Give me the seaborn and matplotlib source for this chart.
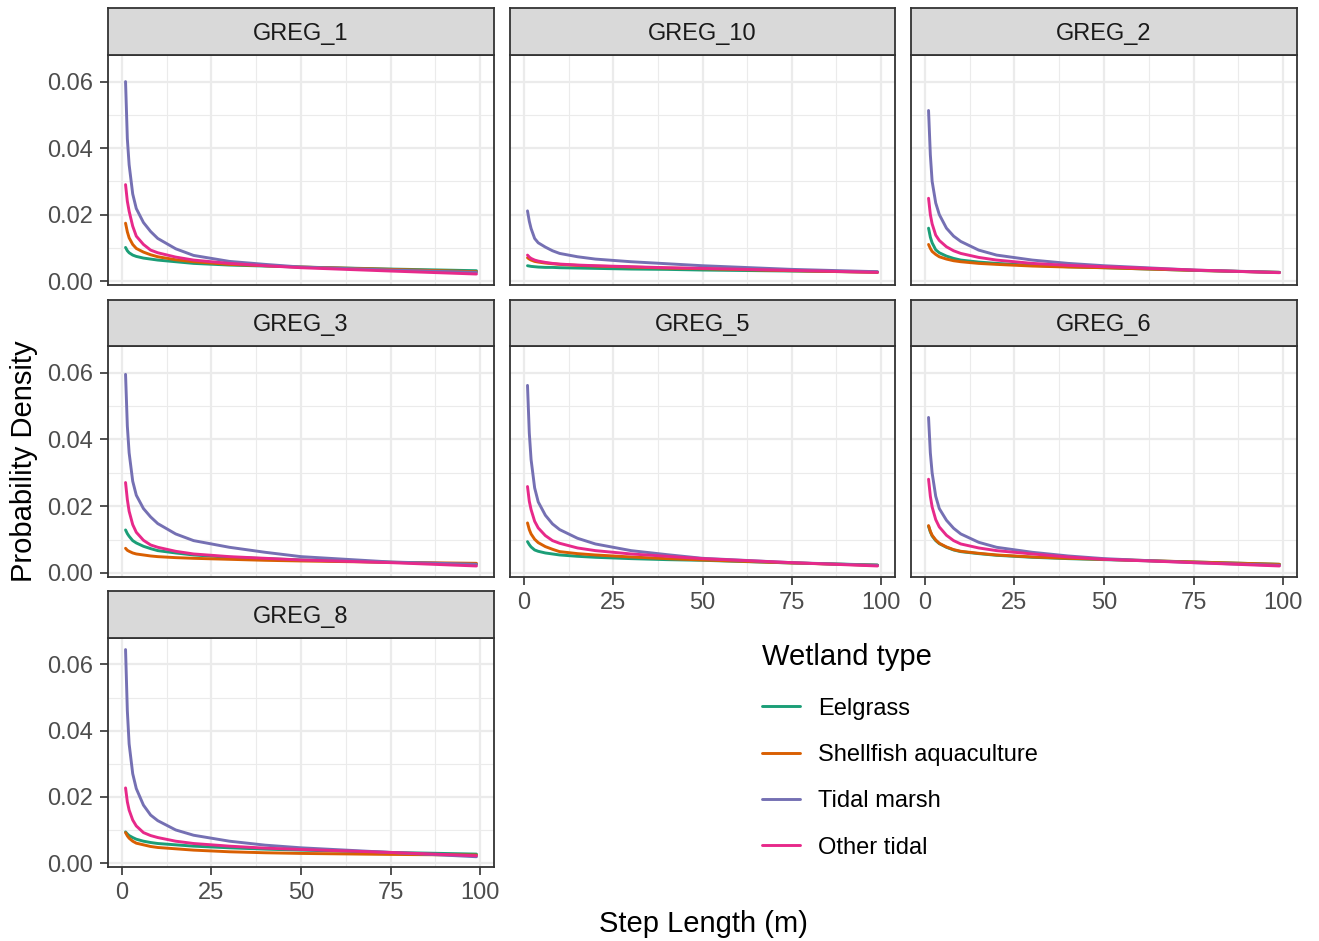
import numpy as np
import pandas as pd
import seaborn as sns
import matplotlib.pyplot as plt
from matplotlib.lines import Line2D

step = [1, 1.5, 2, 3, 4, 6, 8, 10, 15, 20, 30, 40, 50, 75, 99]

regions = ["GREG_1", "GREG_10", "GREG_2", "GREG_3", "GREG_5", "GREG_6", "GREG_8"]
wetlands = ["Eelgrass", "Shellfish aquaculture", "Tidal marsh", "Other tidal"]
colors = ["#1B9E77", "#D95F02", "#7570B3", "#E7298A"]

# GREG_1
g1_eel = [0.0101, 0.0091, 0.0085, 0.0078, 0.0074, 0.0069, 0.0066, 0.0063, 0.0058, 0.0053, 0.0048, 0.0045, 0.0042, 0.0036, 0.0031]
g1_shell = [0.0174, 0.0148, 0.0130, 0.0110, 0.0098, 0.0087, 0.0079, 0.0073, 0.0064, 0.0058, 0.0050, 0.0046, 0.0042, 0.0035, 0.0028]
g1_marsh = [0.0600, 0.0428, 0.0350, 0.0262, 0.0218, 0.0176, 0.0149, 0.0128, 0.0097, 0.0077, 0.0059, 0.0050, 0.0042, 0.0033, 0.0026]
g1_other = [0.0290, 0.0240, 0.0210, 0.0165, 0.0135, 0.0110, 0.0093, 0.0085, 0.0072, 0.0063, 0.0053, 0.0046, 0.0040, 0.0030, 0.0021]
# GREG_10
g10_eel = [0.0046, 0.0045, 0.0044, 0.0043, 0.0042, 0.0041, 0.0041, 0.0040, 0.0039, 0.0038, 0.0036, 0.0035, 0.0033, 0.0030, 0.0027]
g10_shell = [0.0070, 0.0066, 0.0063, 0.0059, 0.0057, 0.0054, 0.0052, 0.0050, 0.0047, 0.0045, 0.0042, 0.0039, 0.0037, 0.0031, 0.0026]
g10_marsh = [0.0211, 0.0180, 0.0158, 0.0128, 0.0115, 0.0102, 0.0091, 0.0083, 0.0073, 0.0066, 0.0058, 0.0052, 0.0046, 0.0035, 0.0028]
g10_other = [0.0078, 0.0072, 0.0068, 0.0063, 0.0060, 0.0056, 0.0053, 0.0051, 0.0048, 0.0046, 0.0043, 0.0040, 0.0038, 0.0032, 0.0026]
# GREG_2
g2_eel = [0.0159, 0.0132, 0.0115, 0.0094, 0.0085, 0.0075, 0.0068, 0.0063, 0.0057, 0.0053, 0.0047, 0.0043, 0.0040, 0.0032, 0.0026]
g2_shell = [0.0110, 0.0098, 0.0089, 0.0080, 0.0073, 0.0066, 0.0061, 0.0058, 0.0053, 0.0050, 0.0045, 0.0042, 0.0040, 0.0032, 0.0026]
g2_marsh = [0.0513, 0.0380, 0.0300, 0.0235, 0.0200, 0.0159, 0.0135, 0.0119, 0.0093, 0.0078, 0.0063, 0.0053, 0.0046, 0.0033, 0.0026]
g2_other = [0.0249, 0.0200, 0.0172, 0.0138, 0.0122, 0.0103, 0.0091, 0.0083, 0.0071, 0.0063, 0.0053, 0.0047, 0.0043, 0.0033, 0.0025]
# GREG_3
g3_eel = [0.0129, 0.0118, 0.0110, 0.0097, 0.0090, 0.0080, 0.0073, 0.0067, 0.0060, 0.0054, 0.0047, 0.0043, 0.0039, 0.0032, 0.0026]
g3_shell = [0.0074, 0.0068, 0.0065, 0.0060, 0.0057, 0.0054, 0.0051, 0.0049, 0.0046, 0.0044, 0.0041, 0.0038, 0.0036, 0.0032, 0.0029]
g3_marsh = [0.0595, 0.0440, 0.0360, 0.0275, 0.0233, 0.0193, 0.0168, 0.0148, 0.0117, 0.0097, 0.0077, 0.0062, 0.0049, 0.0033, 0.0026]
g3_other = [0.0271, 0.0220, 0.0185, 0.0145, 0.0122, 0.0098, 0.0084, 0.0077, 0.0065, 0.0057, 0.0049, 0.0044, 0.0039, 0.0031, 0.0021]
# GREG_5
g5_eel = [0.0094, 0.0085, 0.0078, 0.0069, 0.0065, 0.0060, 0.0057, 0.0054, 0.0050, 0.0047, 0.0043, 0.0040, 0.0038, 0.0030, 0.0024]
g5_shell = [0.0150, 0.0130, 0.0117, 0.0101, 0.0091, 0.0079, 0.0071, 0.0064, 0.0058, 0.0054, 0.0048, 0.0043, 0.0039, 0.0030, 0.0023]
g5_marsh = [0.0562, 0.0420, 0.0340, 0.0255, 0.0213, 0.0173, 0.0147, 0.0130, 0.0104, 0.0087, 0.0067, 0.0055, 0.0044, 0.0031, 0.0023]
g5_other = [0.0259, 0.0215, 0.0190, 0.0155, 0.0135, 0.0112, 0.0097, 0.0089, 0.0075, 0.0067, 0.0057, 0.0050, 0.0043, 0.0031, 0.0021]
# GREG_6
g6_eel = [0.0140, 0.0123, 0.0111, 0.0097, 0.0088, 0.0077, 0.0069, 0.0064, 0.0058, 0.0053, 0.0047, 0.0043, 0.0040, 0.0033, 0.0026]
g6_shell = [0.0142, 0.0125, 0.0113, 0.0099, 0.0089, 0.0078, 0.0070, 0.0065, 0.0059, 0.0054, 0.0048, 0.0044, 0.0041, 0.0033, 0.0026]
g6_marsh = [0.0466, 0.0360, 0.0300, 0.0230, 0.0193, 0.0158, 0.0134, 0.0117, 0.0092, 0.0077, 0.0062, 0.0051, 0.0043, 0.0031, 0.0023]
g6_other = [0.0281, 0.0230, 0.0198, 0.0160, 0.0138, 0.0113, 0.0097, 0.0087, 0.0075, 0.0067, 0.0057, 0.0048, 0.0041, 0.0031, 0.0021]
# GREG_8
g8_eel = [0.0094, 0.0088, 0.0083, 0.0077, 0.0072, 0.0066, 0.0062, 0.0059, 0.0055, 0.0051, 0.0046, 0.0042, 0.0039, 0.0032, 0.0027]
g8_shell = [0.0092, 0.0082, 0.0075, 0.0066, 0.0060, 0.0055, 0.0050, 0.0047, 0.0043, 0.0039, 0.0034, 0.0031, 0.0029, 0.0026, 0.0024]
g8_marsh = [0.0645, 0.0460, 0.0360, 0.0270, 0.0225, 0.0175, 0.0145, 0.0128, 0.0100, 0.0084, 0.0066, 0.0054, 0.0046, 0.0032, 0.0019]
g8_other = [0.0227, 0.0185, 0.0160, 0.0130, 0.0112, 0.0092, 0.0083, 0.0077, 0.0066, 0.0059, 0.0051, 0.0045, 0.0041, 0.0032, 0.0022]

series = {
    "GREG_1": [g1_eel, g1_shell, g1_marsh, g1_other],
    "GREG_10": [g10_eel, g10_shell, g10_marsh, g10_other],
    "GREG_2": [g2_eel, g2_shell, g2_marsh, g2_other],
    "GREG_3": [g3_eel, g3_shell, g3_marsh, g3_other],
    "GREG_5": [g5_eel, g5_shell, g5_marsh, g5_other],
    "GREG_6": [g6_eel, g6_shell, g6_marsh, g6_other],
    "GREG_8": [g8_eel, g8_shell, g8_marsh, g8_other],
}

rows_list = []
for reg in regions:
    for wt, vals in zip(wetlands, series[reg]):
        for s, v in zip(step, vals):
            rows_list.append((reg, wt, s, v))
df = pd.DataFrame(rows_list, columns=["region", "wetland", "step", "density"])

sns.set_theme(style="white")
plt.rcParams['font.family'] = ['Liberation Sans', 'DejaVu Sans']
plt.rcParams['text.color'] = 'black'

W, H = 1319, 941
fig = plt.figure(figsize=(W / 100, H / 100), dpi=100)

col_px = [(108, 494), (510, 895), (911, 1297)]
row_px = [(8, 55, 285), (300, 346, 577), (591, 638, 867)]  # strip top, panel top, panel bottom
palette = dict(zip(wetlands, colors))
dark = "#333333"

for i, reg in enumerate(regions):
    r, c = divmod(i, 3)
    x0, x1 = col_px[c]
    ys, yt, yb = row_px[r]
    ax = fig.add_axes([x0 / W, 1 - yb / H, (x1 - x0) / W, (yb - yt) / H])
    sub = df[df.region == reg]
    sns.lineplot(data=sub, x="step", y="density", hue="wetland", hue_order=wetlands,
                 palette=palette, linewidth=2.1, legend=False, ax=ax, zorder=3)
    ax.set_xlim(-3.9, 103.9)
    ax.set_ylim(-0.0012, 0.068)
    ax.set_xticks([0, 25, 50, 75, 100])
    ax.set_xticks([12.5, 37.5, 62.5, 87.5], minor=True)
    ax.set_yticks([0.0, 0.02, 0.04, 0.06])
    ax.set_yticks([0.01, 0.03, 0.05], minor=True)
    ax.set_yticklabels(["0.00", "0.02", "0.04", "0.06"])
    ax.grid(which="major", color="#EBEBEB", linewidth=1.6, zorder=0)
    ax.grid(which="minor", color="#EBEBEB", linewidth=0.8, zorder=0)
    ax.set_axisbelow(True)
    ax.set_xlabel("")
    ax.set_ylabel("")
    for sp in ax.spines.values():
        sp.set_color(dark)
        sp.set_linewidth(1.3)
    ax.tick_params(which="major", direction="out", length=5.5, width=1.2, color=dark,
                   labelsize=17, labelcolor="#4D4D4D", pad=5)
    ax.tick_params(which="minor", length=0)
    show_y = c == 0
    show_x = i >= 4
    ax.tick_params(axis="y", left=show_y, labelleft=show_y)
    ax.tick_params(axis="x", bottom=show_x, labelbottom=show_x)

    # facet strip
    sax = fig.add_axes([x0 / W, 1 - yt / H, (x1 - x0) / W, (yt - ys) / H])
    sax.set_facecolor("#D9D9D9")
    sax.set_xticks([])
    sax.set_yticks([])
    for sp in sax.spines.values():
        sp.set_color(dark)
        sp.set_linewidth(1.3)
    sax.text(0.5, 0.45, reg, ha="center", va="center", fontsize=17, color="#1A1A1A",
             transform=sax.transAxes)

fig.text(24 / W, 1 - 461 / H, "Probability Density", rotation=90, ha="center", va="center",
         fontsize=21, color="black")
fig.text(703 / W, 1 - 924 / H, "Step Length (m)", ha="center", va="center",
         fontsize=21, color="black")

handles = [Line2D([0], [0], color=col, linewidth=2.1) for col in colors]
leg = fig.legend(handles, wetlands, title="Wetland type", loc="upper left",
                 bbox_to_anchor=(741 / W, 1 - 622 / H), frameon=False, fontsize=17,
                 title_fontsize=21, handlelength=1.6, handletextpad=0.75,
                 labelspacing=1.03, alignment="left")
leg._legend_box.sep = 19

fig.savefig("out.png", dpi=100)
